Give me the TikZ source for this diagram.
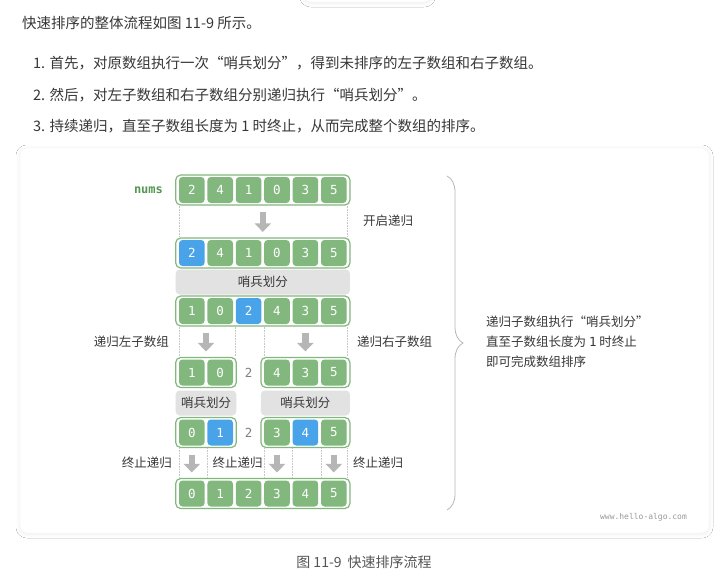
\documentclass[tikz,border=0pt]{standalone}
\usepackage{fontspec}
\setmainfont{Noto Sans CJK SC}
\setmonofont{DejaVu Sans Mono}
\usepackage{tikz}
\usetikzlibrary{
    positioning,
    arrows.meta,
    calc,
    shadows.blur,
    decorations.pathreplacing
}
\definecolor{cellGreen}{RGB}{130, 184, 126}
\definecolor{numsGreen}{RGB}{86, 150, 82}
\definecolor{pivotBlue}{RGB}{72, 163, 232}
\definecolor{barGray}{RGB}{226, 226, 226}
\definecolor{arrowGray}{RGB}{182, 182, 182}
\definecolor{guideGray}{RGB}{198, 198, 198}
\definecolor{textDark}{RGB}{55, 55, 55}
\definecolor{captionGray}{RGB}{85, 85, 85}

\begin{document}
\begin{tikzpicture}[x=1pt, y=-1pt,
    cell/.style={fill=cellGreen, rounded corners=3.5pt, minimum width=25.6pt,
        minimum height=26pt, inner sep=0pt, text=white,
        font=\ttfamily\fontsize{12.5}{14}\selectfont},
    pivot/.style={cell, fill=pivotBlue},
    arrframe/.style={draw=cellGreen, line width=1.2pt, fill=white,
        rounded corners=5pt, minimum height=30pt, inner sep=0pt},
    sentbar/.style={fill=barGray, rounded corners=4pt, minimum height=25pt,
        inner sep=0pt, text=textDark, font=\fontsize{12.5}{14}\selectfont},
    guide/.style={guideGray, densely dotted, line width=0.6pt},
    downarrow/.style={arrowGray, line width=6.5pt,
        -{Triangle[width=16pt, length=8.5pt]}, shorten <=6.5pt, shorten >=5.5pt},
    lbl/.style={text=textDark, inner sep=0pt, font=\fontsize{12.5}{14}\selectfont},
    pagetext/.style={text=textDark, inner sep=0pt, anchor=west,
        font=\fontsize{14.5}{17}\selectfont}
]
    % page and card
    \path[use as bounding box, fill=white] (0,0) rectangle (717,576);
    \draw[black!5, fill=white, rounded corners=8pt,
        blur shadow={shadow blur steps=8, shadow xshift=0pt, shadow yshift=-1pt,
        shadow opacity=7, shadow blur radius=4pt}] (303,-24) rectangle (432,2);
    \draw[black!5, fill=white, rounded corners=7pt,
        blur shadow={shadow blur steps=8, shadow xshift=0pt, shadow yshift=-1pt,
        shadow opacity=7, shadow blur radius=4pt}] (20,148) rectangle (709,533);

    \node[pagetext] (intro) at (22,23) {快速排序的整体流程如图 11-9 所示。};
    \node[pagetext] (step1) at (33,63) {1. 首先，对原数组执行一次“哨兵划分”，得到未排序的左子数组和右子数组。};
    \node[pagetext] (step2) at (33,95) {2. 然后，对左子数组和右子数组分别递归执行“哨兵划分”。};
    \node[pagetext] (step3) at (33,126) {3. 持续递归，直至子数组长度为 1 时终止，从而完成整个数组的排序。};

    % array frames
    \node[arrframe, minimum width=174.2pt] (fr1) at (262.8,190) {};
    \node[arrframe, minimum width=174.2pt] (fr2) at (262.8,253) {};
    \node[arrframe, minimum width=174.2pt] (fr3) at (262.8,311) {};
    \node[arrframe, minimum width=60.6pt] (fr4l) at (206,372.5) {};
    \node[arrframe, minimum width=89pt] (fr4r) at (305.4,372.5) {};
    \node[arrframe, minimum width=60.6pt] (fr5l) at (206,432.5) {};
    \node[arrframe, minimum width=89pt] (fr5r) at (305.4,432.5) {};
    \node[arrframe, minimum width=174.2pt] (fr6) at (262.8,493.5) {};

    % cells
    \foreach \v/\s [count=\i] in {2/cell,4/cell,1/cell,0/cell,3/cell,5/cell}
        \node[\s] (r1-\i) at ({191.8+28.4*(\i-1)},190) {\v};
    \foreach \v/\s [count=\i] in {2/pivot,4/cell,1/cell,0/cell,3/cell,5/cell}
        \node[\s] (r2-\i) at ({191.8+28.4*(\i-1)},253) {\v};
    \foreach \v/\s [count=\i] in {1/cell,0/cell,2/pivot,4/cell,3/cell,5/cell}
        \node[\s] (r3-\i) at ({191.8+28.4*(\i-1)},311) {\v};
    \foreach \i/\v/\s in {1/1/cell,2/0/cell,4/4/cell,5/3/cell,6/5/cell}
        \node[\s] (r4-\i) at ({191.8+28.4*(\i-1)},372.5) {\v};
    \foreach \i/\v/\s in {1/0/cell,2/1/pivot,4/3/cell,5/4/pivot,6/5/cell}
        \node[\s] (r5-\i) at ({191.8+28.4*(\i-1)},432.5) {\v};
    \foreach \v [count=\i] in {0,...,5}
        \node[cell] (r6-\i) at ({191.8+28.4*(\i-1)},493.5) {\v};

    \node[text=gray, font=\ttfamily\fontsize{12.5}{14}\selectfont] (mid4) at (248.6,372.5) {2};
    \node[text=gray, font=\ttfamily\fontsize{12.5}{14}\selectfont] (mid5) at (248.6,432.5) {2};

    % partition bars
    \node[sentbar, minimum width=174.2pt] (bar1) at (262.8,282) {哨兵划分};
    \node[sentbar, minimum width=60.6pt] (bar2l) at (206,403) {哨兵划分};
    \node[sentbar, minimum width=89pt] (bar2r) at (305.4,403) {哨兵划分};

    % guides
    \foreach \a in {r1-1.south west, r1-6.south east}
        \draw[guide] (\a |- fr1.south) -- (\a |- fr2.north);
    \foreach \a in {r3-1.south west, r3-3.south west, r3-4.south west, r3-6.south east}
        \draw[guide] (\a |- fr3.south) -- (\a |- fr4l.north);
    \foreach \a in {r6-1.north west, r6-2.north west, r6-4.north west, r6-5.north west,
        r6-6.north west, r6-6.north east}
        \draw[guide] (\a |- fr5l.south) -- (\a |- fr6.north);

    % arrows
    \draw[downarrow] (fr1) -- (fr2);
    \draw[downarrow] (fr4l |- fr3.south) -- (fr4l.north);
    \draw[downarrow] (fr4r |- fr3.south) -- (fr4r.north);
    \foreach \c in {1,4,6}
        \draw[downarrow] (r6-\c |- fr5l.south) -- (r6-\c.north |- fr6.north);

    % labels
    \node[font=\ttfamily\bfseries\fontsize{12}{14}\selectfont, text=numsGreen,
        inner sep=0pt, left=12pt of fr1] (nums) {nums};
    \node[lbl, anchor=west] (start) at (363,221) {开启递归};
    \node[lbl, anchor=east] (recl) at (169,342) {递归左子数组};
    \node[lbl, anchor=west] (recr) at (357,342) {递归右子数组};
    \node[lbl, anchor=east] (end1) at (172,463) {终止递归};
    \node[lbl] (end2) at (237.5,463) {终止递归};
    \node[lbl, anchor=west] (end3) at (353,463) {终止递归};

    % brace and note
    \coordinate (braceTop) at (447,176);
    \coordinate (braceBot) at (447,510);
    \coordinate (tip) at (463,342);
    \draw[decorate, decoration={brace, amplitude=16pt}, black!28, line width=0.8pt]
        (braceTop) -- (braceBot);
    \node[lbl, align=left, anchor=west, font=\fontsize{12.5}{20}\selectfont,
        right=23pt of tip] (note)
        {递归子数组执行“哨兵划分”\\直至子数组长度为 {\ttfamily 1} 时终止\\即可完成数组排序};

    \node[text=black!40, font=\ttfamily\fontsize{8}{9}\selectfont] (mark) at (643.5,517) {www.hello-algo.com};
    \node[text=captionGray, font=\fontsize{14}{16}\selectfont] (caption) at (364,562)
        {图 11-9\hspace{6pt}快速排序流程};
\end{tikzpicture}
\end{document}
